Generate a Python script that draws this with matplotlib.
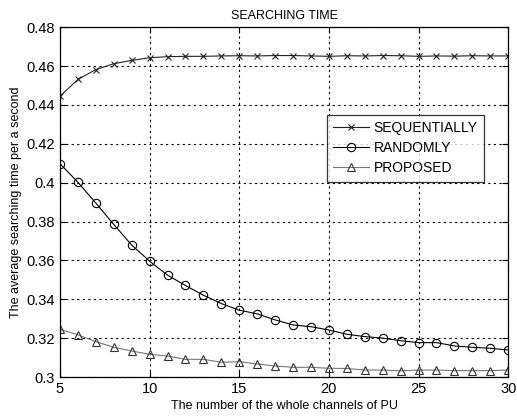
import matplotlib
matplotlib.use("Agg")
import matplotlib.pyplot as plt

channels = list(range(5, 31))

sequentially = [0.4445, 0.4531, 0.4582, 0.4612, 0.4629, 0.4643, 0.4648, 0.4650,
                0.4650, 0.4652, 0.4653, 0.4652, 0.4654, 0.4654, 0.4652, 0.4650,
                0.4653, 0.4652, 0.4654, 0.4653, 0.4650, 0.4652, 0.4651, 0.4653,
                0.4652, 0.4652]
randomly = [0.4098, 0.4002, 0.3895, 0.3785, 0.3679, 0.3596, 0.3524, 0.3471,
            0.3421, 0.3378, 0.3344, 0.3325, 0.3294, 0.3268, 0.3259, 0.3242,
            0.3220, 0.3208, 0.3200, 0.3187, 0.3177, 0.3177, 0.3160, 0.3153,
            0.3148, 0.3139]
proposed = [0.3246, 0.3217, 0.3182, 0.3153, 0.3134, 0.3117, 0.3108, 0.3091,
            0.3091, 0.3076, 0.3079, 0.3067, 0.3057, 0.3050, 0.3050, 0.3045,
            0.3044, 0.3036, 0.3036, 0.3032, 0.3036, 0.3036, 0.3033, 0.3033,
            0.3033, 0.3036]

xticks = [5, 10, 15, 20, 25, 30]
yticks = [0.3, 0.32, 0.34, 0.36, 0.38, 0.4, 0.42, 0.44, 0.46, 0.48]
ytick_labels = ["0.3", "0.32", "0.34", "0.36", "0.38", "0.4", "0.42", "0.44", "0.46", "0.48"]

plt.rcParams["font.family"] = ["Liberation Sans", "DejaVu Sans"]

fig = plt.figure(figsize=(5.17, 4.18), dpi=100)
ax = fig.add_axes([0.116, 0.098, 0.867, 0.837])

ax.plot(channels, sequentially, color="#222222", linewidth=0.8, marker="x",
        markersize=5, markeredgewidth=0.8, label="SEQUENTIALLY")
ax.plot(channels, randomly, color="black", linewidth=0.8, marker="o",
        markersize=6, markerfacecolor="none", markeredgewidth=0.8, label="RANDOMLY")
ax.plot(channels, proposed, color="#777777", linewidth=0.8, marker="^",
        markersize=6, markerfacecolor="none", markeredgecolor="#333333",
        markeredgewidth=0.8, label="PROPOSED")

ax.set_xlim(5, 30)
ax.set_ylim(0.3, 0.48)
ax.set_xticks(xticks)
ax.set_yticks(yticks)
ax.set_yticklabels(ytick_labels)
ax.tick_params(direction="in", labelsize=10.5, length=4, top=True, right=True)
ax.grid(True, color="black", linestyle=(0, (2, 3)), linewidth=0.8)

for spine in ax.spines.values():
    spine.set_linewidth(0.9)

ax.set_title("SEARCHING TIME", fontsize=9, pad=6)
ax.set_xlabel("The number of the whole channels of PU", fontsize=9, labelpad=3)
ax.set_ylabel("The average searching time per a second", fontsize=9, labelpad=3)

leg = ax.legend(loc="upper left", bbox_to_anchor=(0.58, 0.77), fontsize=10,
                frameon=True, fancybox=False, edgecolor="black",
                handlelength=2.6, borderpad=0.45, labelspacing=0.45,
                handletextpad=0.3)
leg.get_frame().set_linewidth(0.9)

fig.savefig("out.png", dpi=100)
